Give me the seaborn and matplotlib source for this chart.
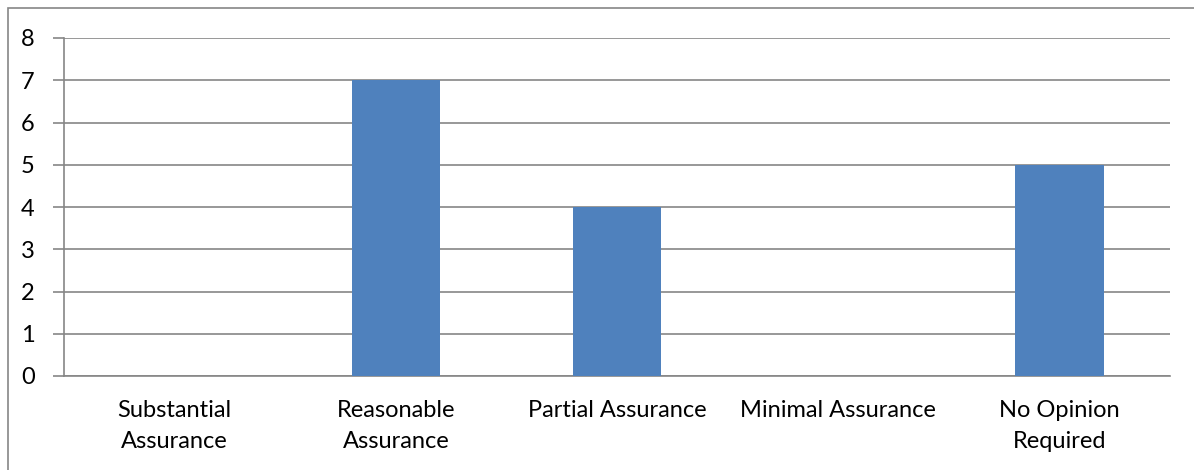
import matplotlib
matplotlib.use("Agg")
import matplotlib.pyplot as plt
import pandas as pd
import seaborn as sns
from matplotlib.patches import Rectangle

categories = ["Substantial\nAssurance", "Reasonable\nAssurance", "Partial Assurance",
              "Minimal Assurance", "No Opinion\nRequired"]
counts = [0, 7, 4, 0, 5]
y_ticks = list(range(0, 9))

sns.set_style("white")
plt.rcParams["font.family"] = ["Lato", "DejaVu Sans"]

grey = "#868686"
df = pd.DataFrame({"category": categories, "count": counts})

fig = plt.figure(figsize=(11.94, 4.70), dpi=100)
ax = fig.add_axes([64 / 1194, 94 / 470, 1106 / 1194, 338 / 470])

sns.barplot(data=df, x="category", y="count", color="#4F81BD", saturation=1,
            width=0.4, linewidth=0, edgecolor="none", ax=ax, zorder=3)

ax.set_xlim(-0.5, len(categories) - 0.5)
ax.set_ylim(0, 8)
ax.set_yticks(y_ticks)
ax.set_xlabel("")
ax.set_ylabel("")
ax.grid(axis="y", color=grey, linewidth=1.2, zorder=0)
ax.set_axisbelow(True)

for side in ["top", "right"]:
    ax.spines[side].set_visible(False)
for side in ["left", "bottom"]:
    ax.spines[side].set_color(grey)
    ax.spines[side].set_linewidth(1.2)

# category ticks sit between the groups, like Excel
ax.set_xticks([i - 0.5 for i in range(len(categories) + 1)], minor=True)
ax.tick_params(axis="x", which="minor", length=8, color=grey, width=1.2, direction="out")
ax.tick_params(axis="x", which="major", length=0, pad=17, labelsize=17, labelcolor="black")
ax.tick_params(axis="y", length=8, color=grey, width=1.2, direction="out", pad=13,
               labelsize=17, labelcolor="black", left=True)
for lab in ax.get_xticklabels():
    lab.set_linespacing(1.6)
    lab.set_verticalalignment("top")

# outer chart frame (cut off at right and bottom in the original)
fig.patches.append(Rectangle((8 / 1194, -0.1), 1.2, (470 - 8) / 470 + 0.1,
                             transform=fig.transFigure, fill=False,
                             edgecolor=grey, linewidth=1.2))

fig.savefig("out.png", dpi=100)
